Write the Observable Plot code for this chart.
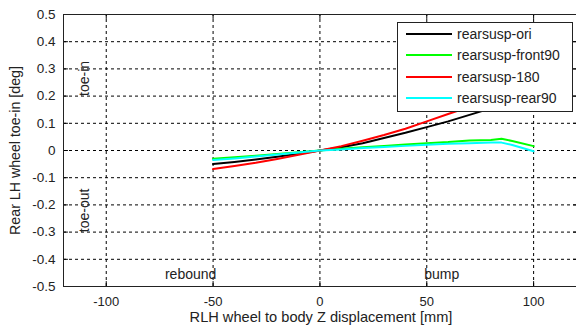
<!DOCTYPE html>
<html><head><meta charset="utf-8">
<script src="https://cdn.jsdelivr.net/npm/d3@7"></script>
<script src="https://cdn.jsdelivr.net/npm/@observablehq/plot@0.6"></script>
<style>
body{margin:0;background:#fff;font-family:"Liberation Sans",Arial,sans-serif;}
#wrap{position:relative;width:576px;height:331px;overflow:hidden;}
#legend{position:absolute;left:397px;top:22px;width:176px;height:90px;border:1px solid #222;background:#fff;box-sizing:border-box;}
.li{position:absolute;left:8px;height:20px;display:flex;align-items:center;font-size:14px;color:#222;white-space:nowrap;}
.li span.sw{display:inline-block;width:46px;height:2px;margin-right:5px;}
</style></head><body>
<div id="wrap"></div>
<script>
const displacement = [-50,-40,-30,-20,-10,0,10,20,30,40,50,60,70,80,85,90,100];
const seriesNames = ["rearsusp-ori","rearsusp-front90","rearsusp-180","rearsusp-rear90"];
const ori     = [-0.050,-0.042,-0.033,-0.023,-0.012,0,0.012,0.027,0.046,0.065,0.086,0.107,0.131,0.155,0.168,0.181,0.207];
const front90 = [-0.030,-0.025,-0.019,-0.013,-0.006,0,0.006,0.012,0.017,0.022,0.027,0.031,0.037,0.039,0.043,0.035,0.016];
const r180    = [-0.068,-0.057,-0.045,-0.031,-0.016,0,0.016,0.036,0.057,0.080,0.107,0.134,0.161,0.190,0.205,0.220,0.250];
const rear90  = [-0.035,-0.029,-0.022,-0.015,-0.007,0,0.004,0.009,0.013,0.017,0.021,0.025,0.027,0.029,0.029,0.020,-0.003];
const colors  = ["#000000","#00ff00","#ff0000","#00ffff"];
const xTicks = [-100,-50,0,50,100];
const yTicks = [-0.5,-0.4,-0.3,-0.2,-0.1,0,0.1,0.2,0.3,0.4,0.5];
const xLabel = "RLH wheel to body Z displacement [mm]";
const yLabel = "Rear LH wheel toe-in [deg]";

const allValues = [ori, front90, r180, rear90];
const rows = [];
allValues.forEach((vals, si) => vals.forEach((v, i) => rows.push({series: seriesNames[si], x: displacement[i], y: v})));

const X0 = -120, X1 = 121;
const tx = 2.3, ty = 0.018;
const chart = Plot.plot({
  width: 576, height: 331,
  marginLeft: 63, marginRight: -2, marginTop: 14, marginBottom: 45,
  style: {fontFamily: "'Liberation Sans', Arial, sans-serif", background: "#fff", color: "#222"},
  x: {domain: [X0, X1]},
  y: {domain: [-0.5, 0.5]},
  color: {domain: seriesNames, range: colors},
  marks: [
    Plot.ruleX(xTicks, {y1: -0.5, y2: 0.5, stroke: "#000", strokeDasharray: "3,3", strokeWidth: 1}),
    Plot.ruleY(yTicks, {x1: X0, x2: X1, stroke: "#000", strokeDasharray: "3,3", strokeWidth: 1}),
    Plot.ruleX(xTicks, {y1: -0.5, y2: -0.5 + ty, stroke: "#000"}),
    Plot.ruleX(xTicks, {y1: 0.5, y2: 0.5 - ty, stroke: "#000"}),
    Plot.ruleY(yTicks, {x1: X0, x2: X0 + tx, stroke: "#000"}),
    Plot.ruleY(yTicks, {x1: X1, x2: X1 - tx, stroke: "#000"}),
    Plot.line(rows, {x: "x", y: "y", z: "series", stroke: "series", strokeWidth: 2}),
    Plot.frame({stroke: "#222", strokeWidth: 1}),
    Plot.axisX(xTicks, {tickSize: 0, tickPadding: 10, fontSize: 13, label: null, tickFormat: d => String(d)}),
    Plot.axisY(yTicks, {tickSize: 0, tickPadding: 8, fontSize: 13.5, label: null, tickFormat: d => String(d)}),
    Plot.text([xLabel], {frameAnchor: "bottom", dy: 35, fontSize: 14.6, fill: "#222"}),
    Plot.text([yLabel], {frameAnchor: "left", dx: -48, rotate: -90, textAnchor: "middle", fontSize: 14.2, fill: "#222"}),
    Plot.text(["toe-in"], {x: -110, y: 0.265, rotate: -90, textAnchor: "middle", fontSize: 14, fill: "#222"}),
    Plot.text(["toe-out"], {x: -110, y: -0.22, rotate: -90, textAnchor: "middle", fontSize: 14, fill: "#222"}),
    Plot.text(["rebound"], {x: -60.5, y: -0.457, fontSize: 14, fill: "#222"}),
    Plot.text(["bump"], {x: 57, y: -0.457, fontSize: 14, fill: "#222"})
  ]
});
const wrap = document.getElementById("wrap");
wrap.appendChild(chart);
const lg = document.createElement("div");
lg.id = "legend";
seriesNames.forEach((n, i) => {
  const d = document.createElement("div");
  d.className = "li";
  d.style.top = (1 + i * 21.3) + "px";
  d.innerHTML = `<span class="sw" style="background:${colors[i]}"></span>${n}`;
  lg.appendChild(d);
});
wrap.appendChild(lg);
</script>
</body></html>
